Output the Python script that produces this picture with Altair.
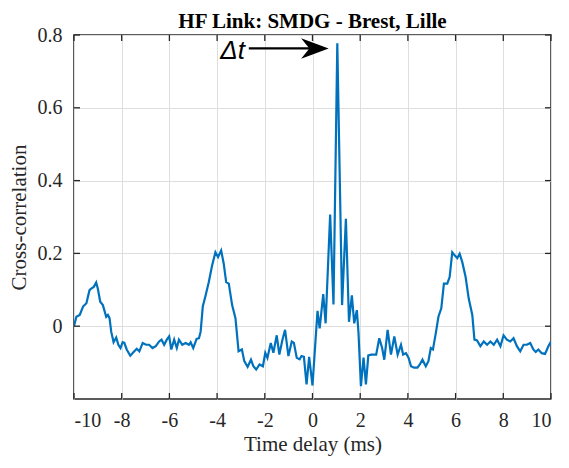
import altair as alt
import pandas as pd

# ---- data ----
delay_ms = [
    -10.0, -9.90, -9.76, -9.62, -9.48, -9.35, -9.28, -9.17, -9.07, -9.00,
    -8.90, -8.79, -8.65, -8.58, -8.51, -8.44, -8.34, -8.23, -8.14, -8.05,
    -7.96, -7.89, -7.79, -7.64, -7.50, -7.37, -7.26, -7.12, -6.98, -6.85,
    -6.71, -6.57, -6.43, -6.33, -6.22, -6.11, -6.01, -5.92, -5.80, -5.69,
    -5.60, -5.46, -5.32, -5.18, -5.11, -5.00, -4.86, -4.76, -4.69, -4.60,
    -4.48, -4.35, -4.21, -4.07, -3.96, -3.83, -3.72, -3.62, -3.51, -3.37,
    -3.23, -3.10, -2.96, -2.86, -2.72, -2.58, -2.48, -2.36, -2.22, -2.08,
    -1.98, -1.89, -1.75, -1.64, -1.50, -1.39, -1.26, -1.15, -1.01, -0.87,
    -0.78, -0.66, -0.54, -0.46, -0.36, -0.25, -0.14, 0.00, 0.10, 0.21,
    0.30, 0.45, 0.55, 0.74, 0.88, 1.04, 1.24, 1.40, 1.53, 1.65,
    1.75, 1.86, 1.93, 2.03, 2.14, 2.24, 2.34, 2.46, 2.67, 2.80,
    2.92, 3.01, 3.15, 3.29, 3.43, 3.57, 3.71, 3.80, 3.92, 4.03,
    4.13, 4.26, 4.40, 4.50, 4.61, 4.75, 4.86, 4.96, 5.05, 5.17,
    5.28, 5.40, 5.51, 5.65, 5.75, 5.86, 5.97, 6.07, 6.17, 6.28,
    6.42, 6.55, 6.70, 6.79, 6.90, 7.04, 7.18, 7.32, 7.46, 7.60,
    7.74, 7.88, 8.01, 8.15, 8.29, 8.43, 8.57, 8.71, 8.85, 8.99,
    9.13, 9.26, 9.36, 9.47, 9.61, 9.75, 9.89, 10.0,
]
xcorr = [
    0.000, 0.026, 0.031, 0.054, 0.063, 0.099, 0.103, 0.108, 0.120, 0.103,
    0.067, 0.058, 0.026, 0.031, 0.022, -0.015, -0.044, -0.031, -0.051, -0.060,
    -0.044, -0.046, -0.064, -0.081, -0.071, -0.062, -0.069, -0.046, -0.051, -0.051,
    -0.060, -0.055, -0.042, -0.037, -0.051, -0.037, -0.028, -0.064, -0.037, -0.060,
    -0.037, -0.051, -0.046, -0.051, -0.044, -0.060, -0.035, -0.033, -0.015, 0.054,
    0.085, 0.121, 0.167, 0.203, 0.190, 0.208, 0.171, 0.121, 0.117, 0.058,
    0.022, -0.069, -0.064, -0.096, -0.112, -0.092, -0.110, -0.119, -0.105, -0.110,
    -0.073, -0.087, -0.046, -0.073, -0.025, -0.078, -0.037, -0.010, -0.082, -0.042,
    -0.046, -0.087, -0.091, -0.082, -0.084, -0.160, -0.084, -0.163, -0.065, 0.042,
    -0.006, 0.088, 0.008, 0.307, 0.060, 0.777, 0.058, 0.295, 0.012, 0.085,
    0.008, 0.044, -0.020, -0.165, -0.086, -0.160, -0.080, -0.078, -0.078, -0.033,
    -0.060, -0.092, -0.010, -0.078, -0.028, -0.078, -0.051, -0.078, -0.074, -0.087,
    -0.110, -0.114, -0.114, -0.105, -0.092, -0.110, -0.096, -0.060, -0.064, -0.019,
    0.026, 0.049, 0.117, 0.117, 0.135, 0.203, 0.194, 0.187, 0.199, 0.176,
    0.135, 0.076, 0.031, -0.037, -0.039, -0.055, -0.042, -0.051, -0.042, -0.051,
    -0.037, -0.055, -0.025, -0.037, -0.042, -0.033, -0.055, -0.069, -0.051, -0.051,
    -0.046, -0.064, -0.071, -0.064, -0.074, -0.076, -0.055, -0.042,
]
x_ticks = [-10, -8, -6, -4, -2, 0, 2, 4, 6, 8, 10]
y_ticks = [0, 0.2, 0.4, 0.6, 0.8]

# annotation (Δt arrow)
arrow_tail_ms = [-2.67]
arrow_shaft_end_ms = [0.30]
arrow_head_ms = [0.10]
arrow_level = [0.763]
label_ms = [-3.35]
label_level = [0.733]
label_text = ["Δt"]

title_text = "HF Link: SMDG - Brest, Lille"
x_title = "Time delay (ms)"
y_title = "Cross-correlation"

# ---- chart ----
W, H = 477, 364
FONT = "Liberation Serif"
AX = "#262626"

df = pd.DataFrame({"t": delay_ms, "c": xcorr})
xt = pd.DataFrame({"t": x_ticks})
yt = pd.DataFrame({"c": y_ticks})
arrow = pd.DataFrame({"t": arrow_tail_ms, "t2": arrow_shaft_end_ms,
                      "h": arrow_head_ms, "c": arrow_level})
lab = pd.DataFrame({"t": label_ms, "c": label_level, "s": label_text})

xs = alt.Scale(domain=[-10, 10], nice=False, zero=False)
ys = alt.Scale(domain=[-0.2, 0.8], nice=False, zero=False)

x_axis = alt.Axis(
    values=x_ticks, title=x_title, grid=True, gridColor="#dedede", gridWidth=1,
    domain=False, ticks=False, labelFont=FONT, labelFontSize=20, labelColor=AX,
    labelPadding=11, titleFont=FONT, titleFontSize=21, titleFontWeight="normal",
    titleColor=AX, titlePadding=3,
    labelExpr="datum.value < 0 ? '-' + abs(datum.value) : '' + datum.value",
)
y_axis = alt.Axis(
    values=y_ticks, title=y_title, grid=True, gridColor="#dedede", gridWidth=1,
    domain=False, ticks=False, labelFont=FONT, labelFontSize=20, labelColor=AX,
    labelPadding=12, titleFont=FONT, titleFontSize=21, titleFontWeight="normal",
    titleColor=AX, titlePadding=8, labelExpr="'' + datum.value",
)

line = alt.Chart(df).mark_line(color="#0072BD", strokeWidth=2.2, clip=True).encode(
    x=alt.X("t:Q", scale=xs, axis=x_axis),
    y=alt.Y("c:Q", scale=ys, axis=y_axis),
)

tick_style = dict(color=AX, strokeWidth=1.3)
xt_bottom = alt.Chart(xt).mark_rule(**tick_style).encode(
    x=alt.X("t:Q", scale=xs), y=alt.value(H), y2=alt.value(H - 6))
xt_top = alt.Chart(xt).mark_rule(**tick_style).encode(
    x=alt.X("t:Q", scale=xs), y=alt.value(0), y2=alt.value(6))
yt_left = alt.Chart(yt).mark_rule(**tick_style).encode(
    y=alt.Y("c:Q", scale=ys), x=alt.value(0), x2=alt.value(6))
yt_right = alt.Chart(yt).mark_rule(**tick_style).encode(
    y=alt.Y("c:Q", scale=ys), x=alt.value(W), x2=alt.value(W - 6))

shaft = alt.Chart(arrow).mark_rule(color="black", strokeWidth=2.2).encode(
    x=alt.X("t:Q", scale=xs), x2="t2:Q",
    y=alt.Y("c:Q", scale=ys))
head = alt.Chart(arrow).mark_point(
    shape="M1,0 L-1,-0.74 L-0.4,0 L-1,0.74 Z", filled=True, color="black",
    opacity=1, size=760, strokeWidth=0).encode(
    x=alt.X("h:Q", scale=xs), y=alt.Y("c:Q", scale=ys))
dt_label = alt.Chart(lab).mark_text(
    font="Liberation Sans", fontSize=26, fontStyle="italic", color="black",
    baseline="alphabetic", align="center").encode(
    x=alt.X("t:Q", scale=xs), y=alt.Y("c:Q", scale=ys),
    text="s:N")

chart = alt.layer(
    line, xt_bottom, xt_top, yt_left, yt_right, shaft, head, dt_label
).properties(
    width=W, height=H,
    title=alt.TitleParams(title_text, font=FONT, fontSize=21, fontWeight="bold",
                          color="black", anchor="middle", offset=-7),
    autosize=alt.AutoSizeParams(type="none"),
    padding={"left": 66, "top": 27, "right": 10, "bottom": 57},
).configure_view(stroke=AX, strokeWidth=1.5)

chart.save("out.html", embed_options={"renderer": "svg", "actions": False})
